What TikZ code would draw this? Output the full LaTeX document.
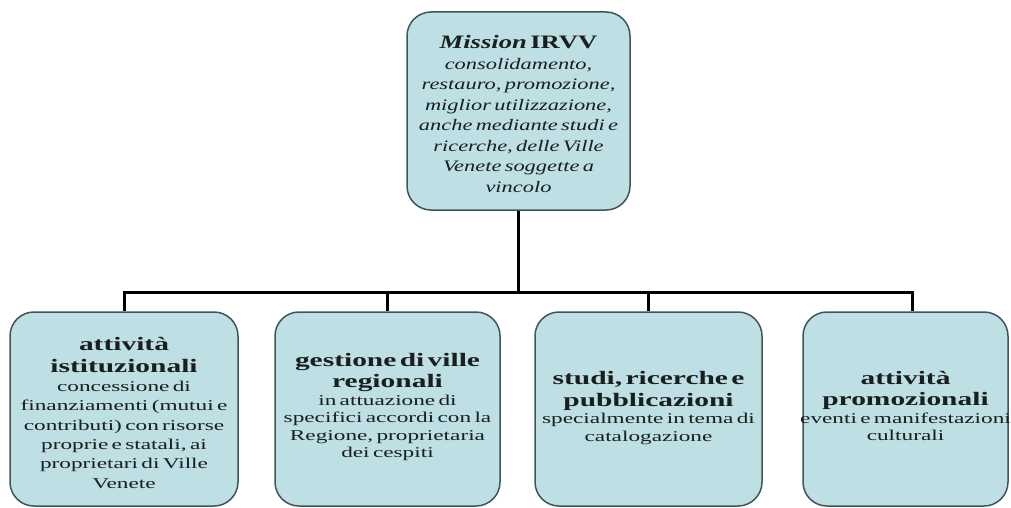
\documentclass[tikz,border=0pt]{standalone}
\usepackage{fontspec}
\setmainfont{Liberation Serif}
\newfontfamily\bodyf[FakeStretch=1.55]{Liberation Serif}
\newfontfamily\topf[FakeStretch=1.4]{Liberation Serif}
\definecolor{boxfill}{RGB}{190,223,228}
\definecolor{boxline}{RGB}{62,86,90}
\definecolor{txt}{RGB}{25,30,30}
\tikzset{
  box/.style={draw=boxline, fill=boxfill, line width=1.5pt, rounded corners=24pt, inner sep=0pt},
  conn/.style={draw=black, line width=3pt},
  lbl/.style={text=txt, align=center, inner sep=0pt, execute at begin node={\hyphenpenalty=10000\exhyphenpenalty=10000}},
}
\newcommand{\hd}[1]{{\bodyf\bfseries\fontsize{19}{21.5}\selectfont #1\par}}
\newcommand{\bd}[1]{{\bodyf\fontsize{15}{17.5}\selectfont #1\par}}
\begin{document}
\begin{tikzpicture}[x=1pt,y=-1pt]
\useasboundingbox (0,0) rectangle (1011,508);
% boxes
\node[box, minimum width=223, minimum height=198] (top) at (518.5,111) {};
\node[box, minimum width=228, minimum height=194] (b1) at (124,409) {};
\node[box, minimum width=225, minimum height=194] (b2) at (387.5,409) {};
\node[box, minimum width=227, minimum height=194] (b3) at (648.5,409) {};
\node[box, minimum width=205, minimum height=194] (b4) at (905.5,409) {};
% texts
\node[lbl, text width=226] (ttop) at (518.5,114) {%
  {\topf\fontsize{19}{21}\selectfont\textbf{\textit{Mission}} \textbf{IRVV}\par}
  {\topf\itshape\fontsize{16}{20.5}\selectfont consolidamento,\\ restauro, promozione,\\ miglior utilizzazione,\\ anche mediante studi e\\ ricerche, delle Ville\\ Venete soggette a\\ vincolo\par}};
\node[lbl, text width=240] (t1) at (124,413) {%
  \hd{attività\\ istituzionali}
  {\bodyf\fontsize{15}{19.3}\selectfont concessione di\\ finanziamenti (mutui e\\ contributi) con risorse\\ proprie e statali, ai\\ proprietari di Ville\\ Venete\par}};
\node[lbl, text width=240] (t2) at (387.5,407) {%
  \hd{gestione di ville\\ regionali}
  \bd{in attuazione di\\ specifici accordi con la\\ Regione, proprietaria\\ dei cespiti}};
\node[lbl, text width=240] (t3) at (648.5,408) {%
  \hd{studi, ricerche e\\ pubblicazioni}
  \bd{specialmente in tema di\\ catalogazione}};
\node[lbl, text width=240] (t4) at (905.5,406) {%
  \hd{attività\\ promozionali}
  \bd{eventi e manifestazioni\\ culturali}};
% connectors
\coordinate (bus) at (518,292);
\coordinate (d4) at ([xshift=6.5pt]b4.north);
\draw[conn] (top.south) -- (top.south |- bus);
\draw[conn] (b1.north) -- (b1.north |- bus) -- (d4 |- bus) -- (d4);
\draw[conn] (b2.north) -- (b2.north |- bus);
\draw[conn] (b3.north) -- (b3.north |- bus);
\end{tikzpicture}
\end{document}
